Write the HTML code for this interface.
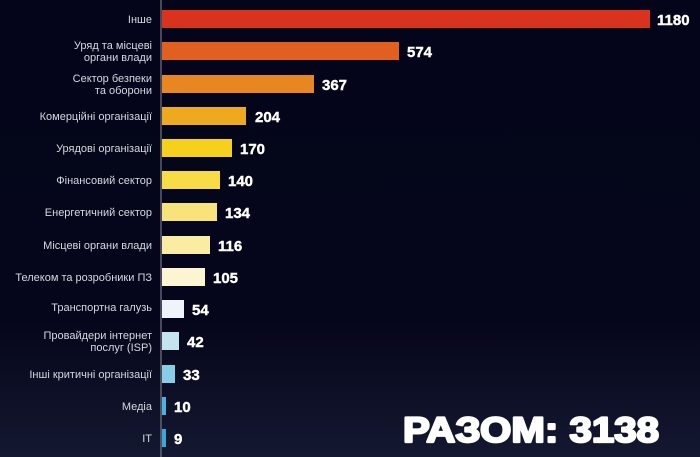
<!DOCTYPE html>
<html><head><meta charset="utf-8"><style>
html,body{margin:0;padding:0;}
body{width:700px;height:457px;overflow:hidden;background:linear-gradient(180deg,#04051a 0%,#05061b 70%,#141830 100%);}
svg{display:block}
</style></head><body>
<svg width="700" height="457" xmlns="http://www.w3.org/2000/svg" font-family="Liberation Sans, sans-serif">
<line x1="161" y1="0" x2="161" y2="457" stroke="#8a8c9a" stroke-width="1"/>
<g font-size="11" fill="#d6d8e0" text-anchor="end">
<text x="152" y="23">Інше</text>
<text x="152" y="49">Уряд та місцеві</text><text x="152" y="61">органи влади</text>
<text x="152" y="82">Сектор безпеки</text><text x="152" y="94">та оборони</text>
<text x="152" y="120">Комерційні організації</text>
<text x="152" y="152">Урядові організації</text>
<text x="152" y="184">Фінансовий сектор</text>
<text x="152" y="216">Енергетичний сектор</text>
<text x="152" y="249">Місцеві органи влади</text>
<text x="152" y="281">Телеком та розробники ПЗ</text>
<text x="152" y="311">Транспортна галузь</text>
<text x="152" y="339">Провайдери інтернет</text><text x="152" y="351">послуг (ISP)</text>
<text x="152" y="378">Інші критичні організації</text>
<text x="152" y="410">Медіа</text>
<text x="152" y="442">IT</text>
</g>
<g>
<rect x="162" y="10" width="488" height="18" fill="#d9321d"/>
<rect x="162" y="42" width="237" height="18" fill="#e2601f"/>
<rect x="162" y="75" width="152" height="18" fill="#e88722"/>
<rect x="162" y="107" width="84" height="18" fill="#eeaa1e"/>
<rect x="162" y="139" width="70" height="18" fill="#f5d01c"/>
<rect x="162" y="171" width="58" height="18" fill="#f7dc45"/>
<rect x="162" y="203" width="55" height="18" fill="#f8e27a"/>
<rect x="162" y="236" width="48" height="18" fill="#faeca0"/>
<rect x="162" y="268" width="43" height="18" fill="#fcf5d2"/>
<rect x="162" y="300" width="22" height="18" fill="#eef4fa"/>
<rect x="162" y="332" width="17" height="18" fill="#c4e4f0"/>
<rect x="162" y="365" width="13" height="18" fill="#86cde6"/>
<rect x="162" y="397" width="4" height="18" fill="#4ab2de"/>
<rect x="162" y="429" width="4" height="18" fill="#3aa6da"/>
</g>
<g font-size="15" font-weight="bold" fill="#ffffff" stroke="#ffffff" stroke-width="0.4">
<text x="657" y="25">1180</text>
<text x="407" y="57">574</text>
<text x="322" y="90">367</text>
<text x="255" y="122">204</text>
<text x="240" y="154">170</text>
<text x="228" y="186">140</text>
<text x="225" y="218">134</text>
<text x="218" y="251">116</text>
<text x="213" y="283">105</text>
<text x="192" y="315">54</text>
<text x="187" y="347">42</text>
<text x="183" y="380">33</text>
<text x="174" y="412">10</text>
<text x="174" y="444">9</text>
</g>
<text x="403" y="442" font-size="35" font-weight="bold" fill="#ffffff" stroke="#ffffff" stroke-width="2.2" stroke-linejoin="round" textLength="256" lengthAdjust="spacingAndGlyphs">РАЗОМ: 3138</text>
</svg>
</body></html>
